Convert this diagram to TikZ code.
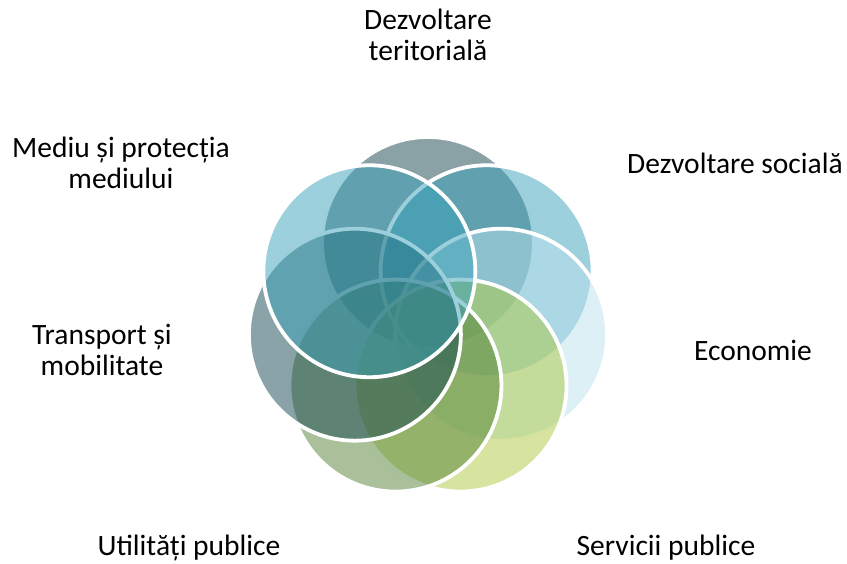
\documentclass[tikz,border=0pt]{standalone}
\usepackage{fontspec}
\setmainfont{Carlito}
\definecolor{cTer}{RGB}{21,69,77}
\definecolor{cSoc}{RGB}{57,161,185}
\definecolor{cEco}{RGB}{187,225,237}
\definecolor{cSer}{RGB}{173,201,65}
\definecolor{cUti}{RGB}{83,129,53}
\definecolor{cTra}{RGB}{21,71,81}
\definecolor{cMed}{RGB}{57,161,185}
\tikzset{
  venn/.style={circle, minimum size=212pt, inner sep=0pt, draw=white, line width=3.8pt, fill opacity=0.5, draw opacity=1},
  lbl/.style={align=center, text=black, font=\fontsize{29.5}{30.5}\selectfont, inner sep=0pt}
}
\begin{document}
\begin{tikzpicture}[x=1pt,y=-1pt]
\useasboundingbox (0,0) rectangle (847,564);
\foreach \k/\c in {0/cTer,1/cSoc,2/cEco,3/cSer,4/cUti,5/cTra,6/cMed}{
  \node[venn, fill=\c] (c\k) at ({428+75*sin(\k*360/7)},{318-75*cos(\k*360/7)}) {};
}
\node[lbl] (t0) at (428,35) {Dezvoltare\\teritorială};
\node[lbl] (t1) at (735,163) {Dezvoltare socială};
\node[lbl] (t2) at (753,350) {Economie};
\node[lbl] (t3) at (666,548) {Servicii publice};
\node[lbl] (t4) at (189,548) {Utilități publice};
\node[lbl] (t5) at (102,350) {Transport și\\mobilitate};
\node[lbl] (t6) at (121,163) {Mediu și protecția\\mediului};
\end{tikzpicture}
\end{document}
